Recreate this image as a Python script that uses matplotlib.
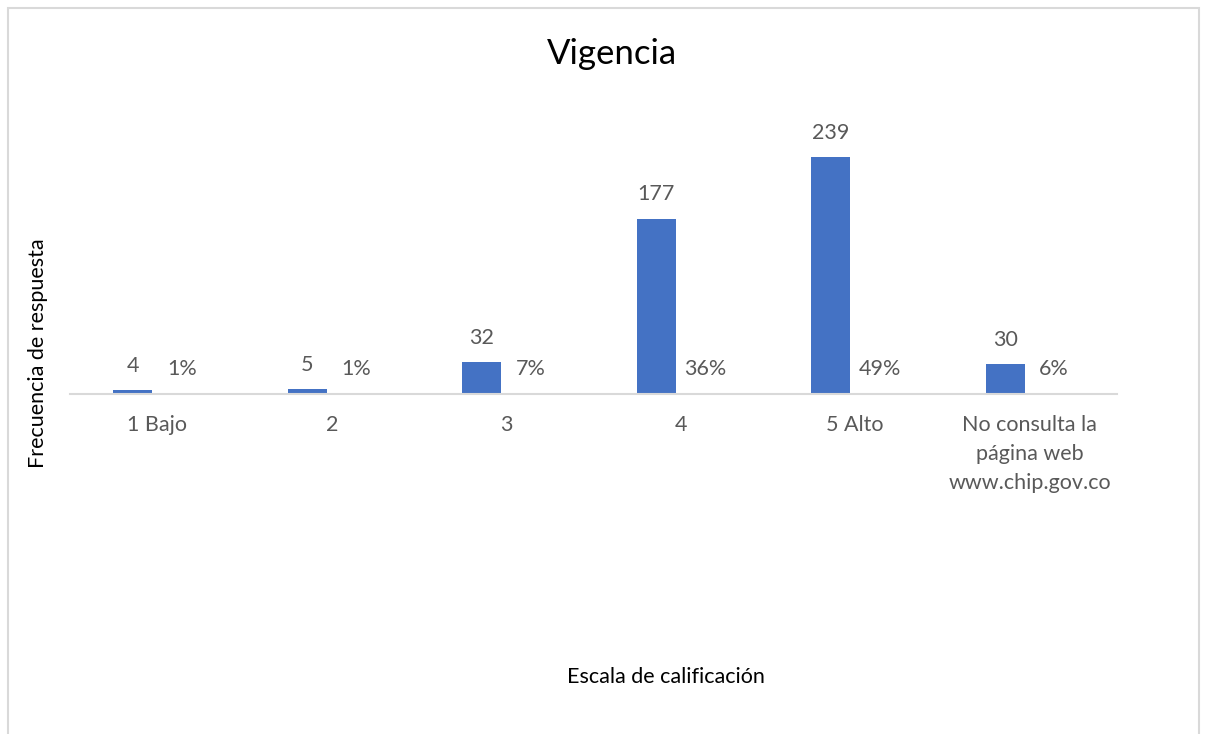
import matplotlib.pyplot as plt
import numpy as np
from matplotlib.patches import Rectangle

categories = ["1 Bajo", "2", "3", "4", "5 Alto", "No consulta la\npágina web\nwww.chip.gov.co"]
frecuencia = [4, 5, 32, 177, 239, 30]
porcentaje = [1, 1, 7, 36, 49, 6]

plt.rcParams['font.family'] = ['Lato', 'DejaVu Sans']

W, H = 1209, 734
fig = plt.figure(figsize=(W / 100, H / 100), dpi=100)
ax = fig.add_axes([70 / W, (H - 394) / H, (1117 - 70) / W, (394 - 97) / H])

x = np.arange(len(categories))
bw = 39 / 174.5
off = 24.5 / 174.5
bars1 = ax.bar(x - off, frecuencia, bw, color='#4472C4')
bars2 = ax.bar(x + off, [p / 100 for p in porcentaje], bw, color='#ED7D31')

lab_col = '#595959'
fs = 15.5
for b, v in zip(bars1, frecuencia):
    ax.annotate(str(v), (b.get_x() + b.get_width() / 2, v), xytext=(0, 17.5),
                textcoords='offset points', ha='center', va='center',
                fontsize=fs, color=lab_col)
for b, p in zip(bars2, porcentaje):
    ax.annotate(f"{p}%", (b.get_x() + b.get_width() / 2, 0), xytext=(0, 18),
                textcoords='offset points', ha='center', va='center',
                fontsize=fs, color=lab_col)

ax.set_xlim(-0.5, len(categories) - 0.5)
ax.set_ylim(0, 300)
ax.set_yticks([])
ax.set_xticks(x)
ax.set_xticklabels(categories, fontsize=fs, color=lab_col, linespacing=1.58, va='top')
ax.tick_params(axis='x', length=0, pad=15)
for s in ['top', 'right', 'left']:
    ax.spines[s].set_visible(False)
ax.spines['bottom'].set_color('#D9D9D9')
ax.spines['bottom'].set_linewidth(1.5)

fig.text(612 / W, 1 - 54 / H, "Vigencia", ha='center', va='center', fontsize=25, color='#000000')
fig.text(666 / W, 1 - 677 / H, "Escala de calificación", ha='center', va='center', fontsize=fs, color='#000000')
fig.text(38 / W, 1 - 353 / H, "Frecuencia de respuesta", ha='center', va='center',
         rotation=90, fontsize=fs, color='#000000')

fig.patches.append(Rectangle((8 / W, -0.05), (1199 - 8) / W, 1.05 - 8 / H,
                             transform=fig.transFigure, fill=False,
                             edgecolor='#D9D9D9', linewidth=1.5))

fig.savefig("out.png", dpi=100)
